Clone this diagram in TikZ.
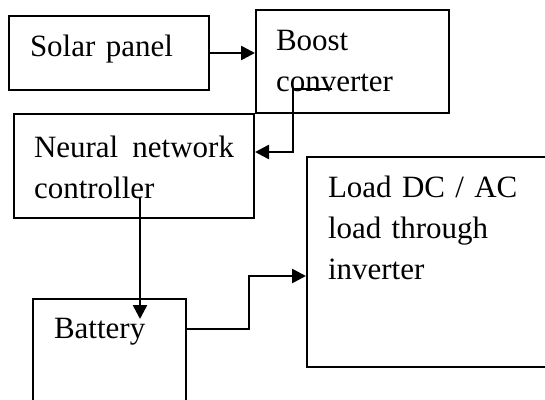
\documentclass[tikz,border=0pt]{standalone}
\usepackage{fontspec}
\setmainfont{Liberation Serif}
\usetikzlibrary{arrows.meta}

\begin{document}
\begin{tikzpicture}[
  x=1pt, y=-1pt,
  every node/.style={font=\fontsize{31}{41}\selectfont},
  block/.style={rectangle, draw, line width=2pt, align=left,
                anchor=north west, inner ysep=0pt, inner xsep=21pt},
  arrow/.style={-{Triangle[length=14pt,width=14pt]}, line width=2.6pt}
]
\useasboundingbox (0,0) rectangle (545,399);

\node[block, text width=158pt, text height=40pt, text depth=34pt] (solar) at (8,15) {Solar panel};
\node[block, inner xsep=20pt, text width=153pt, text height=40pt, text depth=63pt] (boost) at (255,9) {Boost\\converter};
\node[block, inner xsep=20pt, text width=200pt, text height=43pt, text depth=61pt] (neural) at (13,113)
      {\hbox to \linewidth{Neural\hfill network}\\controller};
\node[block, text width=212pt, text height=40pt, text depth=170pt] (load) at (306,156)
      {Load DC / AC\\load through\\inverter};
\node[block, text width=111pt, text height=39pt, text depth=83pt] (battery) at (32,298) {Battery};

\coordinate (boostout) at (332,89);
\coordinate (boostbend) at (293,89);
\coordinate (ctrlout) at (140,197);
\coordinate (battin) at (140,319);

\draw[arrow] (solar.east) -- (solar.east -| boost.west);
\draw[arrow] (boostout) -- (boostbend) |- ([yshift=14pt]neural.east);
\draw[arrow] (ctrlout) -- (battin);
\draw[arrow] ([yshift=31pt]battery.east) -- ++(62,0) |- ([yshift=-14pt]load.west);

\end{tikzpicture}
\end{document}
